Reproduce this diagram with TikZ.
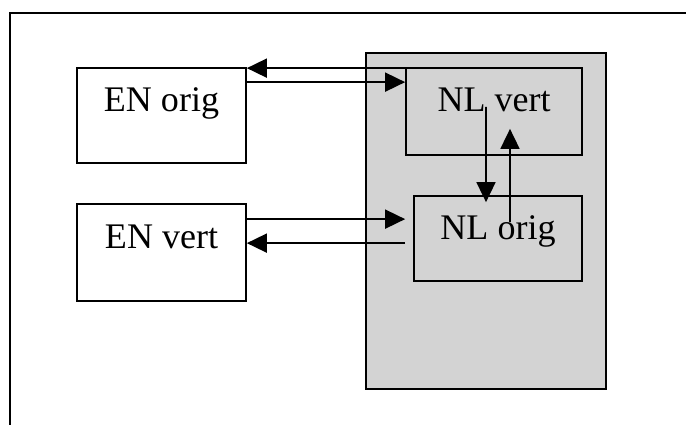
\documentclass[tikz,border=0pt]{standalone}
\usepackage{fontspec}
\setmainfont{Liberation Serif}
\usetikzlibrary{positioning,arrows.meta}
\definecolor{panelgray}{RGB}{211,211,211}

\begin{document}
\begin{tikzpicture}[
  x=0.02cm, y=-0.02cm,
  >={Triangle[length=0.4cm,width=0.38cm]},
  every node/.style={font=\fontsize{20.5}{24}\selectfont},
  box/.style={draw, line width=1pt, inner sep=0pt},
  arrow/.style={->, line width=1pt}
]
\useasboundingbox (0,0) rectangle (686,425);

% Rahmen (oben und links)
\draw[line width=0.6pt] (10,425) -- (10,13) -- (686,13);

% Grauer Bereich
\node[box, fill=panelgray, minimum width=4.8cm, minimum height=6.72cm] (panel) at (486,221) {};

% Kaesten
\node[box, fill=white, minimum width=3.38cm, minimum height=1.9cm] (ENorig) at (161.5,115.5) {};
\node[box, fill=white, minimum width=3.38cm, minimum height=1.94cm] (ENvert) at (161.5,252.5) {};
\node[box, minimum width=3.52cm, minimum height=1.74cm] (NLvert) at (494,111.5) {};
\node[box, minimum width=3.36cm, minimum height=1.7cm] (NLorig) at (498,238.5) {};

% Beschriftungen
\node[anchor=base] (ENorigtxt) at ([yshift=-0.88cm] ENorig.north) {EN orig};
\node[anchor=base] (ENverttxt) at ([yshift=-0.9cm] ENvert.north) {EN vert};
\node[anchor=base] (NLverttxt) at ([yshift=-0.88cm] NLvert.north) {NL vert};
\node[anchor=base] (NLorigtxt) at ([yshift=-0.88cm] NLorig.north) {NL orig};

% Pfeile
\draw[arrow] ([yshift=-0.02cm] NLvert.north west) -- ([yshift=-0.02cm] NLvert.north west -| ENorig.east);
\draw[arrow] ([yshift=-0.3cm] ENorig.north east) -- ([yshift=-0.3cm] ENorig.north east -| NLvert.west);
\draw[arrow] ([yshift=-0.32cm] ENvert.north east) -- ([yshift=-0.32cm] ENvert.north east -| NLvert.west);
\draw[arrow] ([yshift=-0.8cm] ENvert.north east -| NLvert.west) -- ([yshift=-0.8cm] ENvert.north east);
\draw[arrow] ([xshift=-0.16cm, yshift=0.09cm] NLvert.center) -- ([xshift=-0.24cm, yshift=-0.14cm] NLorig.north);
\draw[arrow] ([xshift=0.24cm, yshift=-0.54cm] NLorig.north) -- ([xshift=0.32cm, yshift=0.54cm] NLvert.south);

\end{tikzpicture}
\end{document}
